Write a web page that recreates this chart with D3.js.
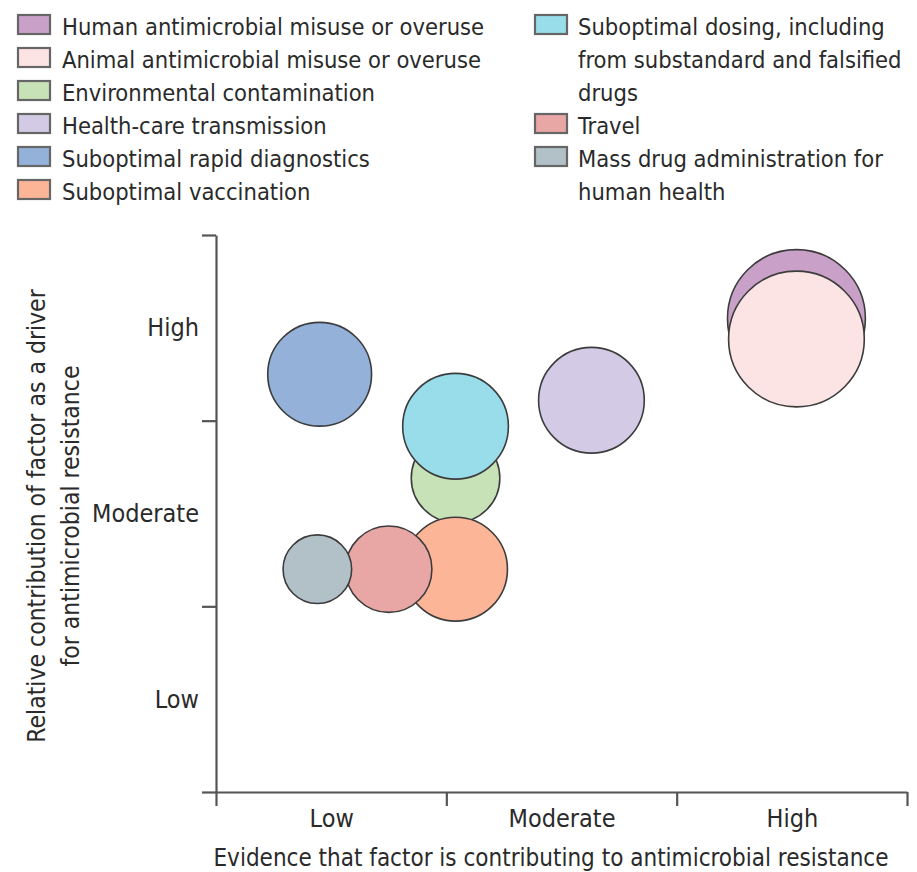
<!DOCTYPE html>
<html>
<head>
<meta charset="utf-8">
<script src="https://cdn.jsdelivr.net/npm/d3@7"></script>
<style>
  body { margin: 0; background: #fff; }
  svg text { font-family: "Liberation Sans Narrow", "DejaVu Sans Condensed", "Noto Sans", sans-serif; fill: #2a2a2a; }
</style>
</head>
<body>
<svg width="917" height="872"></svg>
<script>
// factors, in legend order
const factors = [
  "Human antimicrobial misuse or overuse",
  "Animal antimicrobial misuse or overuse",
  "Environmental contamination",
  "Health-care transmission",
  "Suboptimal rapid diagnostics",
  "Suboptimal vaccination",
  "Suboptimal dosing, including from substandard and falsified drugs",
  "Travel",
  "Mass drug administration for human health"
];
// legend lines (wrapped like the original)
const legendLines = [
  ["Human antimicrobial misuse or overuse"],
  ["Animal antimicrobial misuse or overuse"],
  ["Environmental contamination"],
  ["Health-care transmission"],
  ["Suboptimal rapid diagnostics"],
  ["Suboptimal vaccination"],
  ["Suboptimal dosing, including", "from substandard and falsified", "drugs"],
  ["Travel"],
  ["Mass drug administration for", "human health"]
];
const colors = ["#c9a1c8", "#fbe4e3", "#c8e2b8", "#d3cbe6", "#93b1d9", "#fdb598", "#98dde9", "#e8a6a5", "#b1c1c7"];

// 0 = bottom of "Low" band, 3 = top of "High" band
const evidence     = [2.52, 2.52, 1.04, 1.63, 0.45, 1.04, 1.04, 0.75, 0.44];
const contribution = [2.55, 2.44, 1.69, 2.11, 2.25, 1.20, 1.97, 1.20, 1.20];
const bubbleSize   = [97, 94, 40, 57, 55, 55, 57, 38, 24];

// painting order (later ones on top)
const drawOrder = [0, 1, 3, 4, 2, 6, 5, 7, 8];

const levels = ["Low", "Moderate", "High"];
const xTitle = "Evidence that factor is contributing to antimicrobial resistance";
const yTitle = ["Relative contribution of factor as a driver", "for antimicrobial resistance"];

let svg = d3.select("svg");

let x = d3.scaleLinear().domain([0, 3]).range([216, 907]);
let y = d3.scaleLinear().domain([0, 3]).range([792, 235]);
let r = d3.scaleSqrt().domain([0, 100]).range([0, 70]);

const axisColor = "#555";

// axis lines + ticks
let xAxis = svg.append("g")
    .attr("transform", "translate(0,792)")
    .call(d3.axisBottom(x).tickValues([0, 1, 2, 3]).tickSize(14).tickSizeOuter(0).tickFormat(""));
let yAxis = svg.append("g")
    .attr("transform", "translate(216,0)")
    .call(d3.axisLeft(y).tickValues([0, 1, 2, 3]).tickSize(14).tickSizeOuter(0).tickFormat(""));
[xAxis, yAxis].forEach(function(a) {
    a.selectAll("path, line").attr("stroke", axisColor).attr("stroke-width", 2.2);
});

// band labels
let xLabels = svg.append("g")
    .attr("transform", "translate(0,792)")
    .call(d3.axisBottom(x).tickValues([0.5, 1.5, 2.5]).tickSize(0).tickPadding(17)
        .tickFormat(function(d, i) { return levels[i]; }));
let yLabels = svg.append("g")
    .attr("transform", "translate(216,0)")
    .call(d3.axisLeft(y).tickValues([0.5, 1.5, 2.5]).tickSize(0).tickPadding(17)
        .tickFormat(function(d, i) { return levels[i]; }));
[xLabels, yLabels].forEach(function(a) {
    a.select(".domain").remove();
    a.selectAll("text").attr("font-size", 25).attr("font-family", null).attr("fill", "#2a2a2a");
});

// axis titles
svg.append("text")
    .attr("x", 551).attr("y", 866)
    .attr("text-anchor", "middle")
    .attr("font-size", 24)
    .text(xTitle);

svg.append("g")
    .attr("transform", "translate(36,516) rotate(-90)")
    .selectAll("text")
    .data(yTitle)
    .enter().append("text")
    .attr("x", 0)
    .attr("y", function(d, i) { return 9 + i * 34; })
    .attr("text-anchor", "middle")
    .attr("font-size", 24.5)
    .text(function(d) { return d; });

// bubbles
svg.append("g")
    .selectAll("circle")
    .data(drawOrder)
    .enter().append("circle")
    .attr("cx", function(i) { return x(evidence[i]); })
    .attr("cy", function(i) { return y(contribution[i]); })
    .attr("r", function(i) { return r(bubbleSize[i]); })
    .attr("fill", function(i) { return colors[i]; })
    .attr("stroke", "#3c3c3c")
    .attr("stroke-width", 1.6);

// legend: two columns on a 33px row grid
const rowStep = 33, firstBaseline = 35;
let legendPos = [];
let row = 0;
factors.forEach(function(f, i) {
    if (i === 6) row = 0;
    legendPos.push({ col: i < 6 ? 0 : 1, row: row });
    row += legendLines[i].length;
});
const colSwatchX = [18, 535], colTextX = [62, 578];

let legend = svg.append("g")
    .selectAll("g")
    .data(factors)
    .enter().append("g")
    .attr("transform", function(d, i) {
        return "translate(0," + (firstBaseline + legendPos[i].row * rowStep) + ")";
    });

legend.append("rect")
    .attr("x", function(d, i) { return colSwatchX[legendPos[i].col]; })
    .attr("y", -20)
    .attr("width", 32)
    .attr("height", 19)
    .attr("fill", function(d, i) { return colors[i]; })
    .attr("stroke", "#666")
    .attr("stroke-width", 2.2);

legend.append("text")
    .attr("font-size", 23.5)
    .selectAll("tspan")
    .data(function(d, i) { return legendLines[i].map(function(t) { return { t: t, i: i }; }); })
    .enter().append("tspan")
    .attr("x", function(d) { return colTextX[legendPos[d.i].col]; })
    .attr("y", function(d, j) { return j * rowStep; })
    .text(function(d) { return d.t; });
</script>
</body>
</html>
